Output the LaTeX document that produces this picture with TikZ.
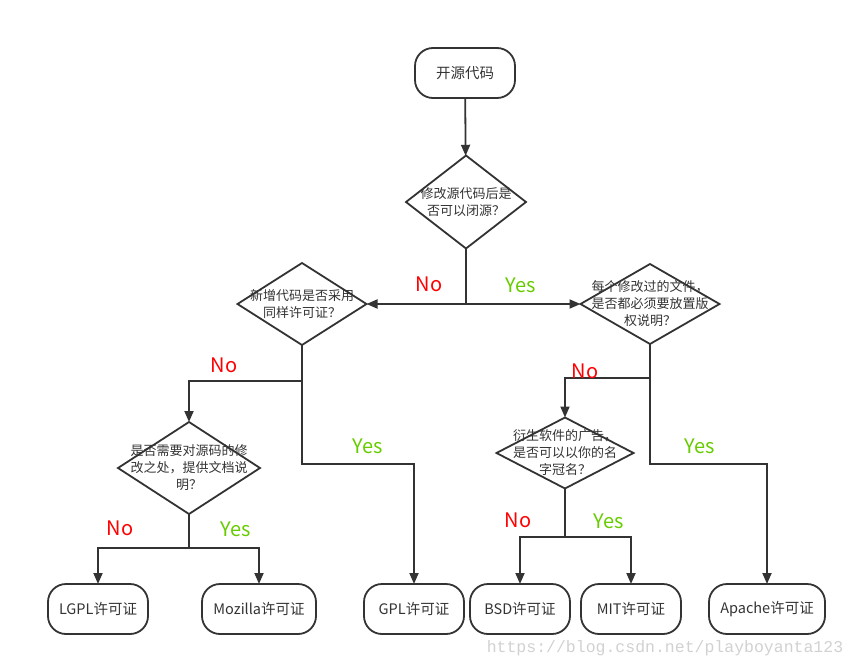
\documentclass[tikz,border=0pt]{standalone}
\usepackage{fontspec}
\setmainfont{Noto Sans CJK SC}
\newfontfamily\wmfont{Liberation Mono}
\usetikzlibrary{shapes.geometric,arrows.meta}
\definecolor{nored}{RGB}{255,0,0}
\definecolor{yesgreen}{RGB}{102,204,0}
\definecolor{linegray}{RGB}{51,51,51}

\begin{document}
\begin{tikzpicture}[x=1pt,y=-1pt,
    terminal/.style={draw=linegray, line width=1.8pt, rounded corners=18pt, minimum width=100pt, minimum height=50pt, inner sep=0pt, outer sep=0pt, font=\fontsize{14.5}{17}\selectfont, text=linegray},
    ask/.style={draw=linegray, line width=1.8pt, diamond, inner sep=0pt, outer sep=0pt},
    asktext/.style={align=center, font=\fontsize{13}{17}\selectfont, text=linegray},
    flow/.style={-{Triangle[length=11pt,width=9pt]}, line width=1.8pt, draw=linegray},
    link/.style={line width=1.8pt, draw=linegray},
    no/.style={text=nored, font=\fontsize{20}{24}\selectfont},
    yes/.style={text=yesgreen, font=\fontsize{20}{24}\selectfont},
    watermark/.style={text=black!18, font=\wmfont\fontsize{16.5}{20}\selectfont}
]
\useasboundingbox (0,0) rectangle (857,667);

\node[terminal] (start) at (465,73) {开源代码};

\node[ask, minimum width=120pt, minimum height=93pt] (q1) at (466,202) {};
\node[asktext] (q1-text) at (q1) {修改源代码后是\\否可以闭源？};
\draw[flow] (start) -- (q1);

\coordinate (split1) at (466,304);
\node[ask, minimum width=129pt, minimum height=82pt] (q2) at (302,304) {};
\node[asktext] (q2-text) at (q2) {新增代码是否采用\\同样许可证？};
\node[ask, minimum width=139pt, minimum height=80pt] (q3) at (650,304) {};
\node[asktext] (q3-text) at (q3) {每个修改过的文件，\\是否都必须要放置版\\权说明？};
\draw[link] (q1.south) -- (split1);
\draw[flow] (split1) -- (q2.east);
\draw[flow] (split1) -- (q3.west);
\node[no] (no1) at (429,284) {No};
\node[yes] (yes1) at (521,285) {Yes};

% left branch
\node[ask, minimum width=142pt, minimum height=92pt] (q4) at (189,468) {};
\node[asktext] (q4-text) at (q4) {是否需要对源码的修\\改之处，提供文档说\\明？};
\coordinate (split2) at (302,381);
\coordinate (bend2) at (302,464);
\node[terminal] (gpl) at (414,609) {GPL许可证};
\draw[flow] (q2.south) -- (split2) -| (q4.north);
\draw[flow] (split2) -- (bend2) -| (gpl.north);
\node[no] (no2) at (224,365) {No};
\node[yes] (yes2) at (368,446) {Yes};

\coordinate (split4) at (189,548);
\node[terminal] (lgpl) at (98,609) {LGPL许可证};
\node[terminal, minimum width=114pt] (mozilla) at (259,609) {Mozilla许可证};
\draw[link] (q4.south) -- (split4);
\draw[flow] (split4) -| (lgpl.north);
\draw[flow] (split4) -| (mozilla.north);
\node[no] (no4) at (120,528) {No};
\node[yes] (yes4) at (236,529) {Yes};

% right branch
\node[ask, minimum width=137pt, minimum height=71pt] (q5) at (565,453) {};
\node[asktext] (q5-text) at (q5) {衍生软件的广告，\\是否可以以你的名\\字冠名？};
\coordinate (split3) at (650,378);
\coordinate (bend3) at (650,464);
\node[terminal, minimum width=116pt] (apache) at (767,609) {Apache许可证};
\draw[flow] (q3.south) -- (split3) -| (q5.north);
\draw[flow] (split3) -- (bend3) -| (apache.north);
\node[no] (no3) at (585,371) {No};
\node[yes] (yes3) at (700,446) {Yes};

\coordinate (split5) at (565,537);
\node[terminal] (bsd) at (520,609) {BSD许可证};
\node[terminal] (mit) at (631,609) {MIT许可证};
\draw[link] (q5.south) -- (split5);
\draw[flow] (split5) -| (bsd.north);
\draw[flow] (split5) -| (mit.north);
\node[no] (no5) at (518,520) {No};
\node[yes] (yes5) at (609,521) {Yes};

\node[watermark] (blog) at (665,648) {https://blog.csdn.net/playboyanta123};
\end{tikzpicture}
\end{document}
